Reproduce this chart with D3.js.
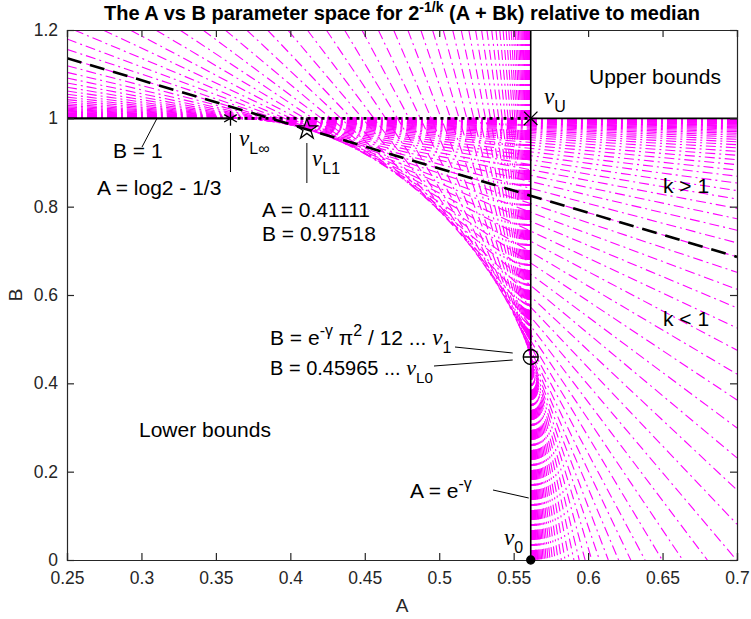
<!DOCTYPE html>
<html><head><meta charset="utf-8">
<script src="https://cdn.jsdelivr.net/npm/d3@7/dist/d3.min.js"></script>
<style>body{margin:0;background:#fff}svg{display:block}</style>
</head><body>
<svg id="chart" width="751" height="619"></svg>
<script>
// ---------------- data ----------------
const xTicks = [0.25,0.3,0.35,0.4,0.45,0.5,0.55,0.6,0.65,0.7];
const xTickLabels = ["0.25","0.3","0.35","0.4","0.45","0.5","0.55","0.6","0.65","0.7"];
const yTicks = [0,0.2,0.4,0.6,0.8,1,1.2];
const yTickLabels = ["0","0.2","0.4","0.6","0.8","1","1.2"];

// shape parameters k of the magenta line family
const kValues = [
 1e-3,1.122e-3,1.259e-3,1.413e-3,1.585e-3,1.778e-3,1.995e-3,2.239e-3,2.512e-3,2.818e-3,
 3.162e-3,3.548e-3,3.981e-3,4.467e-3,5.012e-3,5.623e-3,6.310e-3,7.079e-3,7.943e-3,8.913e-3,
 1e-2,1.122e-2,1.259e-2,1.413e-2,1.585e-2,1.778e-2,1.995e-2,2.239e-2,2.512e-2,2.818e-2,
 3.162e-2,3.548e-2,3.981e-2,4.467e-2,5.012e-2,5.623e-2,6.310e-2,7.079e-2,7.943e-2,8.913e-2,
 1e-1,1.122e-1,1.259e-1,1.413e-1,1.585e-1,1.778e-1,1.995e-1,2.239e-1,2.512e-1,2.818e-1,
 3.162e-1,3.548e-1,3.981e-1,4.467e-1,5.012e-1,5.623e-1,6.310e-1,7.079e-1,7.943e-1,8.913e-1,
 1,1.122,1.259,1.413,1.585,1.778,1.995,2.239,2.512,2.818,
 3.162,3.548,3.981,4.467,5.012,5.623,6.310,7.079,7.943,8.913,
 10,11.22,12.59,14.13,15.85,17.78,19.95,22.39,25.12,28.18,
 31.62,35.48,39.81,44.67,50.12,56.23,63.10,70.79,79.43,89.13,
 100,112.2,125.9,141.3,158.5,177.8,199.5,223.9,251.2,281.8,
 316.2,354.8,398.1,446.7,501.2,562.3,631.0,707.9,794.3,891.3,
 1000];
// line offsets d(k): each line is A + B*k = k + d(k)   (k + d = 2^(1/k) * median)
const lineOffsets = [
 0.56092,0.56086,0.56078,0.56070,0.56061,0.56050,0.56039,0.56025,0.56011,0.55994,0.55976,
 0.55955,0.55932,0.55905,0.55876,0.55843,0.55806,0.55765,0.55718,0.55666,0.55607,0.55542,
 0.55468,0.55385,0.55292,0.55188,0.55071,0.54939,0.54792,0.54626,0.54441,0.54232,0.53998,
 0.53735,0.53440,0.53109,0.52737,0.52321,0.51855,0.51336,0.50763,0.50136,0.49457,0.48734,
 0.47976,0.47195,0.46405,0.45618,0.44847,0.44102,0.43391,0.42720,0.42093,0.41512,0.40977,
 0.40486,0.40039,0.39632,0.39264,0.38930,0.38629,0.38358,0.38114,0.37893,0.37695,0.37517,
 0.37357,0.37213,0.37084,0.36968,0.36864,0.36771,0.36687,0.36612,0.36545,0.36485,0.36431,
 0.36383,0.36340,0.36302,0.36267,0.36236,0.36209,0.36184,0.36163,0.36143,0.36125,0.36110,
 0.36096,0.36084,0.36073,0.36063,0.36054,0.36046,0.36039,0.36033,0.36027,0.36022,0.36018,
 0.36014,0.36010,0.36007,0.36004,0.36002,0.36000,0.35998,0.35996,0.35994,0.35993,0.35992,
 0.35991,0.35990,0.35989,0.35988,0.35987,0.35987,0.35986,0.35985,0.35985,0.35985,0.35984];

// key points: nu_Linf, nu_L1, nu_U, nu_1/nu_L0, nu_0
const pointA = [0.35981, 0.41111, 0.56146, 0.56146, 0.56146];
const pointB = [1, 0.97518, 1, 0.45965, 0];
const kDashed = 1, dDashed = 0.38629; // the k = 1 line: A + B = 2 log 2

// ---------------- layout ----------------
const svg = d3.select("#chart");
const L=67,R=737,T=30,Bm=560;
const x = d3.scaleLinear().domain([0.25,0.7]).range([L,R]);
const y = d3.scaleLinear().domain([0,1.2]).range([Bm,T]);
const magenta = "#ff00ff";
const sans = "Liberation Sans, Arial, Helvetica, sans-serif";
const serif = "Liberation Serif, Times New Roman, serif";

svg.append("rect").attr("width",751).attr("height",619).attr("fill","#fff");
svg.append("defs").append("clipPath").attr("id","clip").append("rect")
  .attr("x",L).attr("y",T).attr("width",R-L).attr("height",Bm-T);

const [A0,A1] = x.domain(), [B0,B1] = y.domain();
// visible segment of A + B k = k + d, drawn from its entry (left/top) point
function segment(k,d){
  const c = k + d;
  const aIn = Math.max(A0, c - B1*k), aOut = Math.min(A1, c - B0*k);
  if (aIn >= aOut) return null;
  return [[aIn,(c-aIn)/k],[aOut,(c-aOut)/k]];
}

const gl = svg.append("g").attr("clip-path","url(#clip)");
kValues.forEach((k,i)=>{
  const s = segment(k, lineOffsets[i]);
  if (!s) return;
  gl.append("line")
    .attr("x1",x(s[0][0])).attr("y1",y(s[0][1]))
    .attr("x2",x(s[1][0])).attr("y2",y(s[1][1]))
    .attr("stroke",magenta).attr("stroke-width",1.1)
    .attr("stroke-dasharray","10,4,2,4");
});

// boundary lines
const gb = svg.append("g").attr("clip-path","url(#clip)");
gb.append("line").attr("x1",x(A0)).attr("x2",x(pointA[0])).attr("y1",y(1)).attr("y2",y(1))
  .attr("stroke","#000").attr("stroke-width",2.2);
gb.append("line").attr("x1",x(pointA[0])).attr("x2",x(pointA[2])).attr("y1",y(1)).attr("y2",y(1))
  .attr("stroke","#000").attr("stroke-width",2.6).attr("stroke-dasharray","3,4");
gb.append("line").attr("x1",x(pointA[2])).attr("x2",x(A1)).attr("y1",y(1)).attr("y2",y(1))
  .attr("stroke","#000").attr("stroke-width",1.6);
gb.append("line").attr("x1",x(pointA[2])).attr("x2",x(pointA[2])).attr("y1",y(B0)).attr("y2",y(B1))
  .attr("stroke","#000").attr("stroke-width",1.6);
const sd = segment(kDashed, dDashed);
gb.append("line").attr("x1",x(sd[0][0])).attr("y1",y(sd[0][1])).attr("x2",x(sd[1][0])).attr("y2",y(sd[1][1]))
  .attr("stroke","#000").attr("stroke-width",2.6).attr("stroke-dasharray","15,9");

// axes
const axisColor="#262626";
const ax = svg.append("g").attr("transform",`translate(0,${Bm})`)
  .call(d3.axisBottom(x).tickValues(xTicks).tickFormat((d,i)=>xTickLabels[i]).tickSize(-7).tickPadding(12));
const ay = svg.append("g").attr("transform",`translate(${L},0)`)
  .call(d3.axisLeft(y).tickValues(yTicks).tickFormat((d,i)=>yTickLabels[i]).tickSize(-7).tickPadding(9));
const axT = svg.append("g").attr("transform",`translate(0,${T})`)
  .call(d3.axisTop(x).tickValues(xTicks).tickFormat("").tickSize(-7));
const ayR = svg.append("g").attr("transform",`translate(${R},0)`)
  .call(d3.axisRight(y).tickValues(yTicks).tickFormat("").tickSize(-7));
[ax,ay,axT,ayR].forEach(g=>{
  g.select(".domain").attr("stroke",axisColor).attr("stroke-width",1.2);
  g.selectAll(".tick line").attr("stroke",axisColor).attr("stroke-width",1.2);
  g.selectAll(".tick text").attr("fill",axisColor).attr("font-size",17.5).attr("font-family",sans);
});

// axis labels
svg.append("text").attr("x",(L+R)/2).attr("y",612).attr("text-anchor","middle")
  .attr("font-family",sans).attr("font-size",19).attr("fill",axisColor).text("A");
svg.append("text").attr("transform",`translate(22,${(T+Bm)/2}) rotate(-90)`).attr("text-anchor","middle")
  .attr("font-family",sans).attr("font-size",19).attr("fill",axisColor).text("B");

// title
const tt = svg.append("text").attr("x",(L+R)/2).attr("y",20).attr("text-anchor","middle")
  .attr("font-family",sans).attr("font-size",20).attr("font-weight","bold").attr("fill","#000");
tt.append("tspan").text("The A vs B parameter space for 2");
tt.append("tspan").attr("font-size",14).attr("dy",-8).text("-1/k");
tt.append("tspan").attr("dy",8).text(" (A + Bk) relative to median");

// markers
const gm = svg.append("g").attr("stroke","#000").attr("fill","none").attr("stroke-width",1.3);
const sym = (type,size,i)=>gm.append("path").attr("d",d3.symbol().type(type).size(size)())
  .attr("transform",`translate(${x(pointA[i])},${y(pointB[i])})`);
sym(d3.symbolAsterisk,150,0);
sym(d3.symbolStar,130,1);
sym(d3.symbolX,120,2);
gm.append("circle").attr("cx",x(pointA[3])).attr("cy",y(pointB[3])).attr("r",7.5);
gm.append("path").attr("d",`M${x(pointA[3])-7.5},${y(pointB[3])}h15M${x(pointA[3])},${y(pointB[3])-7.5}v15`);
gm.append("circle").attr("cx",x(pointA[4])).attr("cy",y(pointB[4])).attr("r",4).attr("fill","#000");

// text helpers
function label(xp, yp, parts, size){
  const fs = size || 21;
  const t = svg.append("text").attr("x",xp).attr("y",yp).attr("font-family",sans).attr("font-size",fs).attr("fill","#000");
  let shift = 0;
  parts.forEach(p=>{
    const s = t.append("tspan").text(p.t);
    const target = p.sub ? 8 : p.sup ? -9 : 0;
    s.attr("dy", target - shift); shift = target;
    if (p.sub || p.sup) s.attr("font-size",fs*0.76);
    if (p.nu) s.attr("font-family",serif).attr("font-style","italic").attr("font-size",fs*1.1);
  });
  return t;
}
const leader = (x1,y1,x2,y2)=>svg.append("line").attr("x1",x1).attr("y1",y1).attr("x2",x2).attr("y2",y2)
  .attr("stroke","#000").attr("stroke-width",1);

label(589,84,[{t:"Upper bounds"}]);
label(544,104,[{t:"ν",nu:1},{t:"U",sub:1}]);
label(663,193,[{t:"k > 1"}]);
label(663,326,[{t:"k < 1"}]);
label(139,437,[{t:"Lower bounds"}]);
label(239,146,[{t:"ν",nu:1},{t:"L∞",sub:1}]);
leader(x(pointA[0]),133,x(pointA[0]),172);
label(113,158,[{t:"B = 1"}]);
leader(142,147,157,y(1));
label(97,195,[{t:"A = log2 - 1/3"}]);
label(312,166,[{t:"ν",nu:1},{t:"L1",sub:1}]);
leader(x(pointA[1]),143,x(pointA[1]),183);
label(262,217,[{t:"A = 0.41111"}]);
label(262,241,[{t:"B = 0.97518"}]);
label(270,345,[{t:"B = e"},{t:"-γ",sup:1},{t:" π"},{t:"2",sup:1},{t:" / 12 ... "},{t:"ν",nu:1},{t:"1",sub:1}]);
leader(455,347,x(pointA[3])-18,353);
label(270,375,[{t:"B = 0.45965 ... "},{t:"ν",nu:1},{t:"L0",sub:1}], 20);
leader(434,366,x(pointA[3])-18,360);
label(410,498,[{t:"A = e"},{t:"-γ",sup:1}]);
leader(493,490,x(pointA[2])-2,498);
label(504,545,[{t:"ν",nu:1},{t:"0",sub:1}]);
</script>
</body></html>
